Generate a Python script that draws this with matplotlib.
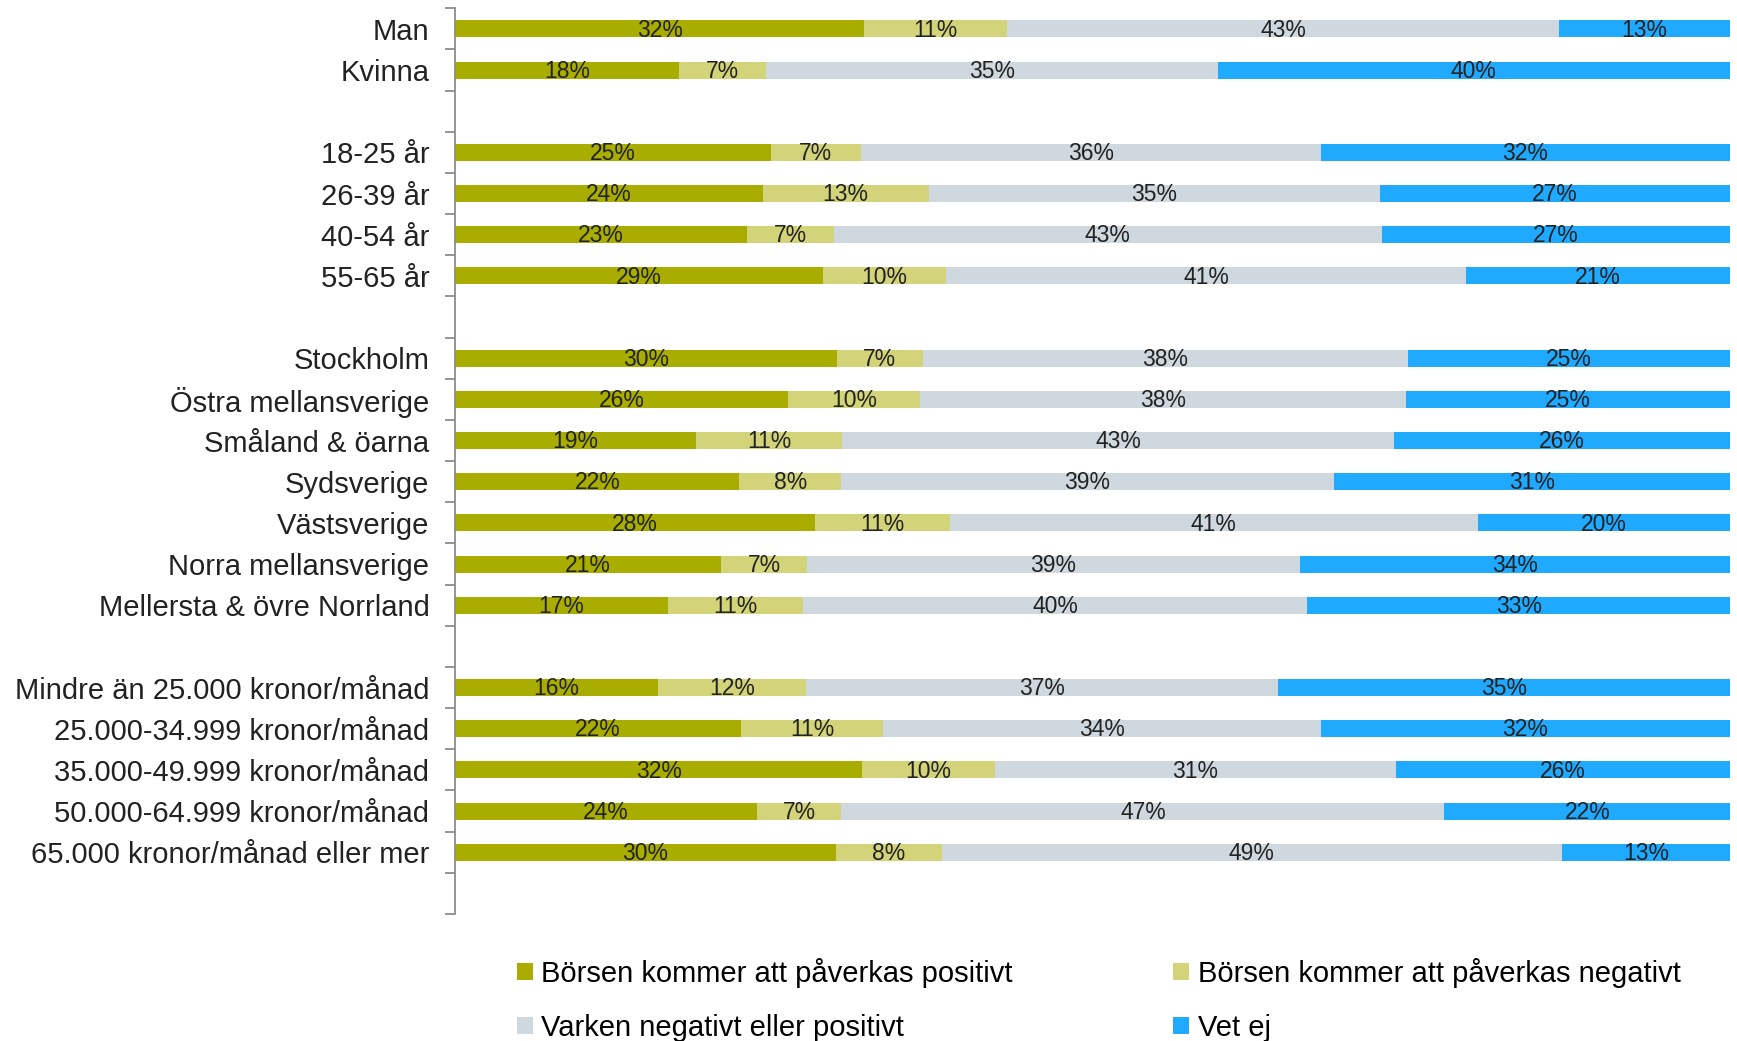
import numpy as np
import matplotlib
matplotlib.use("Agg")
import matplotlib.pyplot as plt
from matplotlib.patches import Patch

plt.rcParams.update({
    "font.family": ["Liberation Sans", "DejaVu Sans"],
})

# rows top -> bottom; None = empty spacer row
CATEGORIES = ["Man", "Kvinna", None,
              "18-25 år", "26-39 år", "40-54 år", "55-65 år", None,
              "Stockholm", "Östra mellansverige", "Småland & öarna", "Sydsverige",
              "Västsverige", "Norra mellansverige", "Mellersta & övre Norrland", None,
              "Mindre än 25.000 kronor/månad", "25.000-34.999 kronor/månad",
              "35.000-49.999 kronor/månad", "50.000-64.999 kronor/månad",
              "65.000 kronor/månad eller mer", None]

SERIES = ["Börsen kommer att påverkas positivt", "Börsen kommer att påverkas negativt",
          "Varken negativt eller positivt", "Vet ej"]
COLORS = ["#A8AD00", "#D3D37A", "#CED8DE", "#1FA9FF"]

# shares (%) per row
positivt = [32.1, 17.6, None, 24.8, 24.1, 22.9, 28.8, None,
            30.0, 26.1, 18.9, 22.3, 28.2, 20.9, 16.7, None,
            15.9, 22.4, 31.9, 23.7, 29.9, None]
negativt = [11.2, 6.8, None, 7.0, 13.0, 6.8, 9.7, None,
            6.7, 10.4, 11.4, 8.0, 10.6, 6.7, 10.6, None,
            11.6, 11.2, 10.4, 6.6, 8.3, None]
varken = [43.3, 35.4, None, 36.1, 35.4, 43.0, 40.7, None,
          38.1, 38.1, 43.3, 38.6, 41.4, 38.7, 39.6, None,
          37.0, 34.3, 31.4, 47.3, 48.7, None]
vet_ej = [13.4, 40.2, None, 32.1, 27.4, 27.3, 20.7, None,
          25.3, 25.4, 26.3, 31.1, 19.8, 33.8, 33.2, None,
          35.4, 32.1, 26.2, 22.4, 13.2, None]

fig = plt.figure(figsize=(17.37, 10.41), dpi=100)
ax = fig.add_axes([0.262, 0.122, 0.734, 0.870])

n = len(CATEGORIES)
y = np.arange(n)
vals = np.array([[np.nan if v is None else v for v in s]
                 for s in (positivt, negativt, varken, vet_ej)], dtype=float)
tot = np.nansum(vals, axis=0)
tot[tot == 0] = 1
share = vals / tot * 100

left = np.zeros(n)
for k in range(4):
    w = np.nan_to_num(share[k])
    ax.barh(y, w, left=left, height=0.41, color=COLORS[k], linewidth=0)
    for i in range(n):
        if not np.isnan(vals[k, i]):
            ax.text(left[i] + w[i] / 2, y[i] + 0.03, f"{round(vals[k, i])}%",
                    ha="center", va="center", fontsize=16.5, color="#222222")
    left += w

ax.set_xlim(0, 100)
ax.set_ylim(n - 0.5, -0.5)
ax.set_yticks(y)
ax.set_yticklabels(["" if c is None else c for c in CATEGORIES], fontsize=21, color="#222222",
                   va="center_baseline")
ax.tick_params(axis="y", which="major", length=0, pad=18.5)
ax.set_yticks(np.arange(-0.5, n, 1.0), minor=True)
ax.tick_params(axis="y", which="minor", length=7, width=1.3, color="#8C8C8C", direction="out")
ax.set_xticks([])
for s in ("top", "right", "bottom"):
    ax.spines[s].set_visible(False)
ax.spines["left"].set_color("#8C8C8C")
ax.spines["left"].set_linewidth(1.3)

handles = [Patch(facecolor=COLORS[i], edgecolor="none") for i in (0, 2, 1, 3)]
labels = [SERIES[i] for i in (0, 2, 1, 3)]
fig.legend(handles, labels, ncol=2, loc="upper left", bbox_to_anchor=(0.289, 0.094),
           frameon=False, fontsize=21, handlelength=0.55, handleheight=0.55,
           handletextpad=0.3, columnspacing=5.5, labelspacing=0.9, borderpad=0)

fig.savefig("out.png", dpi=100, facecolor="white")
